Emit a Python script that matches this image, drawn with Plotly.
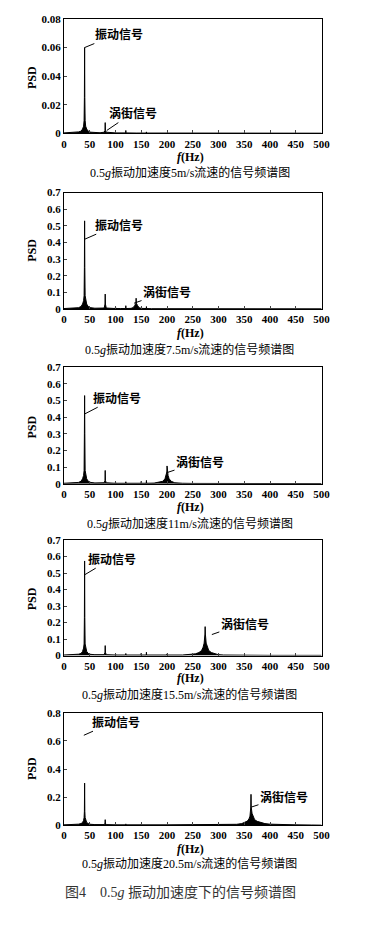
import plotly.graph_objects as go

# ---------------- data ----------------
freq_5 = [0, 5, 10, 20, 28, 33, 36, 38, 39, 39.6, 40, 40.4, 41, 42, 44, 47, 52, 60, 70, 78,
          79.6, 80, 80.4, 82, 90, 100, 119.6, 120, 120.4, 140, 159.6, 160, 160.4, 200, 250, 300, 350, 400, 450, 500]
psd_5 = [0.0003, 0.0004, 0.0005, 0.0006, 0.001, 0.0015, 0.003, 0.005, 0.009, 0.025,
         0.060, 0.025, 0.009, 0.005, 0.003, 0.0015, 0.0008, 0.0005, 0.0004, 0.0008,
         0.002, 0.0075, 0.002, 0.0008, 0.0004, 0.0003, 0.0003, 0.002, 0.0003, 0.0002,
         0.0002, 0.001, 0.0002, 0.0002, 0.0001, 0.0001, 0.0001, 0.0001, 0.0001, 0.0001]

freq_75 = [0, 10, 20, 28, 33, 36, 38, 39, 39.6, 40, 40.4, 41, 42, 44, 47, 52, 60, 70, 78, 79.6,
           80, 80.4, 82, 90, 99.6, 100, 100.4, 110, 119.6, 120, 120.4, 130, 134, 137, 139.6, 140, 140.4, 143, 146, 150,
           159.6, 160, 160.4, 170, 200, 250, 300, 400, 500]
psd_75 = [0.003, 0.004, 0.005, 0.008, 0.015, 0.03, 0.05, 0.08, 0.25, 0.53,
          0.25, 0.08, 0.05, 0.03, 0.015, 0.008, 0.005, 0.004, 0.006, 0.03,
          0.09, 0.03, 0.006, 0.003, 0.003, 0.015, 0.003, 0.003, 0.003, 0.02,
          0.003, 0.004, 0.008, 0.02, 0.035, 0.065, 0.035, 0.02, 0.008, 0.004,
          0.003, 0.015, 0.003, 0.002, 0.002, 0.001, 0.001, 0.001, 0.001]

freq_11 = [0, 10, 20, 28, 33, 36, 38, 39, 39.6, 40, 40.4, 41, 42, 44, 47, 52, 60, 70, 78, 79.6,
           80, 80.4, 82, 90, 99.6, 100, 100.4, 119.6, 120, 120.4, 149.6, 150, 150.4, 159.6, 160, 160.4, 175, 185, 192, 196,
           198, 199.6, 200, 200.4, 202, 204, 208, 215, 219.6, 220, 220.4, 230, 250, 300, 400, 500]
psd_11 = [0.003, 0.004, 0.005, 0.008, 0.015, 0.03, 0.05, 0.08, 0.3, 0.53,
          0.3, 0.08, 0.05, 0.03, 0.015, 0.008, 0.005, 0.004, 0.006, 0.02,
          0.08, 0.02, 0.006, 0.003, 0.003, 0.01, 0.003, 0.003, 0.012, 0.003,
          0.003, 0.015, 0.003, 0.003, 0.02, 0.003, 0.004, 0.008, 0.015, 0.03,
          0.05, 0.07, 0.107, 0.07, 0.05, 0.03, 0.015, 0.006, 0.004, 0.008,
          0.004, 0.003, 0.002, 0.001, 0.001, 0.001]

freq_155 = [0, 10, 20, 28, 33, 36, 38, 39, 39.6, 40, 40.4, 41, 42, 44, 47, 52, 60, 70, 78, 79.6,
            80, 80.4, 82, 90, 99.6, 100, 100.4, 119.6, 120, 120.4, 149.6, 150, 150.4, 159.6, 160, 160.4, 199.6, 200, 200.4, 230,
            245, 255, 262, 267, 270, 272, 273.6, 274, 274.4, 276, 278, 281, 286, 295, 299.6, 300, 300.4, 310, 330, 400, 500]
psd_155 = [0.003, 0.004, 0.005, 0.008, 0.012, 0.025, 0.045, 0.07, 0.23, 0.573,
           0.23, 0.07, 0.045, 0.025, 0.012, 0.007, 0.005, 0.004, 0.005, 0.02,
           0.06, 0.02, 0.005, 0.003, 0.003, 0.012, 0.003, 0.003, 0.012, 0.003,
           0.003, 0.015, 0.003, 0.003, 0.02, 0.003, 0.003, 0.01, 0.003, 0.003,
           0.005, 0.01, 0.018, 0.03, 0.05, 0.075, 0.13, 0.175, 0.13, 0.075,
           0.05, 0.03, 0.018, 0.008, 0.005, 0.012, 0.005, 0.003, 0.002, 0.001, 0.001]

freq_205 = [0, 10, 20, 28, 33, 36, 38, 39, 39.6, 40, 40.4, 41, 42, 44, 47, 52, 60, 70, 78, 79.6,
            80, 80.4, 82, 90, 99.6, 100, 100.4, 119.6, 120, 120.4, 149.6, 150, 150.4, 200, 250, 280, 300, 320, 335, 345,
            352, 356, 359, 361, 362.6, 363, 363.4, 365, 367, 370, 375, 382, 390, 400, 420, 450, 480, 500]
psd_205 = [0.003, 0.004, 0.005, 0.008, 0.012, 0.02, 0.035, 0.055, 0.1, 0.30,
           0.1, 0.055, 0.035, 0.02, 0.012, 0.007, 0.005, 0.004, 0.005, 0.015,
           0.04, 0.015, 0.005, 0.003, 0.003, 0.012, 0.003, 0.003, 0.01, 0.003,
           0.003, 0.008, 0.003, 0.003, 0.003, 0.003, 0.003, 0.004, 0.007, 0.012,
           0.02, 0.03, 0.045, 0.065, 0.13, 0.22, 0.13, 0.085, 0.06, 0.04,
           0.028, 0.018, 0.012, 0.008, 0.005, 0.003, 0.002, 0.001]

x_ticks = [0, 50, 100, 150, 200, 250, 300, 350, 400, 450, 500]
y_ticks_1 = [0, 0.02, 0.04, 0.06, 0.08]
y_ticks_mid = [0, 0.1, 0.2, 0.3, 0.4, 0.5, 0.6, 0.7]
y_ticks_5 = [0, 0.2, 0.4, 0.6, 0.8]

captions = [
    "0.5<i>g</i>振动加速度5m/s流速的信号频谱图",
    "0.5<i>g</i>振动加速度7.5m/s流速的信号频谱图",
    "0.5<i>g</i>振动加速度11m/s流速的信号频谱图",
    "0.5<i>g</i>振动加速度15.5m/s流速的信号频谱图",
    "0.5<i>g</i>振动加速度20.5m/s流速的信号频谱图",
]
figure_caption = "图4　0.5<i>g</i> 振动加速度下的信号频谱图"
label_vib = "振动信号"
label_vortex = "涡街信号"

# annotation anchors (text centre, arrow tip) in data units
vib_text = [(106, 0.0697), (107, 0.51), (103, 0.52), (94, 0.59), (100, 0.74)]
vib_tip = [(40.5, 0.060), (40.5, 0.42), (40.5, 0.42), (40.5, 0.49), (38.5, 0.64)]
vor_text = [(134, 0.0145), (200, 0.105), (264, 0.133), (351, 0.197), (427, 0.205)]
vor_tip = [(83, 0.002), (136, 0.035), (199, 0.066), (287, 0.127), (364, 0.13)]

series = [(freq_5, psd_5), (freq_75, psd_75), (freq_11, psd_11), (freq_155, psd_155), (freq_205, psd_205)]
y_ranges = [[0, 0.08], [0, 0.7], [0, 0.7], [0, 0.7], [0, 0.8]]
y_ticks = [y_ticks_1, y_ticks_mid, y_ticks_mid, y_ticks_mid, y_ticks_5]

# ---------------- layout geometry (pixels) ----------------
W, H = 379, 930
left_px, right_px = 63, 329
panels_px = [(13, 129), (189, 307), (366, 484), (541, 658), (716, 830)]
psd_label_y = [73, 248, 427, 601, 773]
fhz_y = [153, 331, 508, 681, 854]
caption_y = [169, 348, 524, 698, 869]


def px_x(p):
    return p / W


def px_y(p):
    return 1 - p / H


SERIF = "Liberation Serif, Noto Sans CJK SC"
CJK = "Noto Sans CJK SC"

fig = go.Figure()
layout = dict(
    width=W, height=H,
    margin=dict(l=0, r=0, t=0, b=0),
    paper_bgcolor="white", plot_bgcolor="white",
    showlegend=False,
)
annotations = []

for i, ((fx, py), (top, bot)) in enumerate(zip(series, panels_px)):
    n = "" if i == 0 else str(i + 1)
    fig.add_trace(go.Scatter(
        x=fx, y=py, mode="lines", xaxis="x" + n, yaxis="y" + n,
        line=dict(color="black", width=1), fill="tozeroy", fillcolor="black",
        hoverinfo="skip",
    ))
    layout["xaxis" + n] = dict(
        domain=[px_x(left_px), px_x(right_px)], anchor="y" + n,
        range=[0, 500], tickvals=x_ticks, ticks="inside", ticklen=3,
        showline=True, linecolor="black", linewidth=1, mirror=True,
        showgrid=False, zeroline=False,
        tickfont=dict(family=SERIF, size=11, color="black", weight="bold"),
    )
    layout["yaxis" + n] = dict(
        domain=[px_y(bot), px_y(top)], anchor="x" + n,
        range=y_ranges[i], tickvals=y_ticks[i], ticks="inside", ticklen=3,
        showline=True, linecolor="black", linewidth=1, mirror=True,
        showgrid=False, zeroline=False,
        tickfont=dict(family=SERIF, size=11, color="black", weight="bold"),
    )
    # labels with leader lines
    for (tx, ty), (hx, hy), txt in [(vib_text[i], vib_tip[i], label_vib), (vor_text[i], vor_tip[i], label_vortex)]:
        annotations.append(dict(
            xref="x" + n, yref="y" + n, axref="x" + n, ayref="y" + n,
            x=hx, y=hy, ax=tx, ay=ty, text=txt,
            showarrow=True, arrowhead=0, arrowwidth=1, arrowcolor="black",
            font=dict(family=CJK, size=12, color="black", weight="bold"),
        ))
    annotations.append(dict(
        xref="paper", yref="paper", x=px_x(30), y=px_y(psd_label_y[i]),
        xanchor="center", yanchor="middle",
        text="PSD", textangle=-90, showarrow=False,
        font=dict(family=SERIF, size=12, color="black", weight="bold"),
    ))
    annotations.append(dict(
        xref="paper", yref="paper", x=px_x(194), y=px_y(fhz_y[i]),
        xanchor="center", yanchor="middle",
        text="<i>f</i>(Hz)", showarrow=False,
        font=dict(family=SERIF, size=12, color="black", weight="bold"),
    ))
    annotations.append(dict(
        xref="paper", yref="paper", x=px_x(193), y=px_y(caption_y[i]),
        xanchor="center", yanchor="middle",
        text=captions[i], showarrow=False,
        font=dict(family=SERIF, size=12, color="black"),
    ))

annotations.append(dict(
    xref="paper", yref="paper", x=px_x(183), y=px_y(898),
    xanchor="center", yanchor="middle",
    text=figure_caption, showarrow=False,
    font=dict(family=SERIF, size=14, color="#333333"),
))

layout["annotations"] = annotations
fig.update_layout(**layout)
fig.write_html(
    "out.html",
    config={"displayModeBar": False},
    post_script="document.body.style.margin='0px';document.body.style.overflow='hidden';",
)
